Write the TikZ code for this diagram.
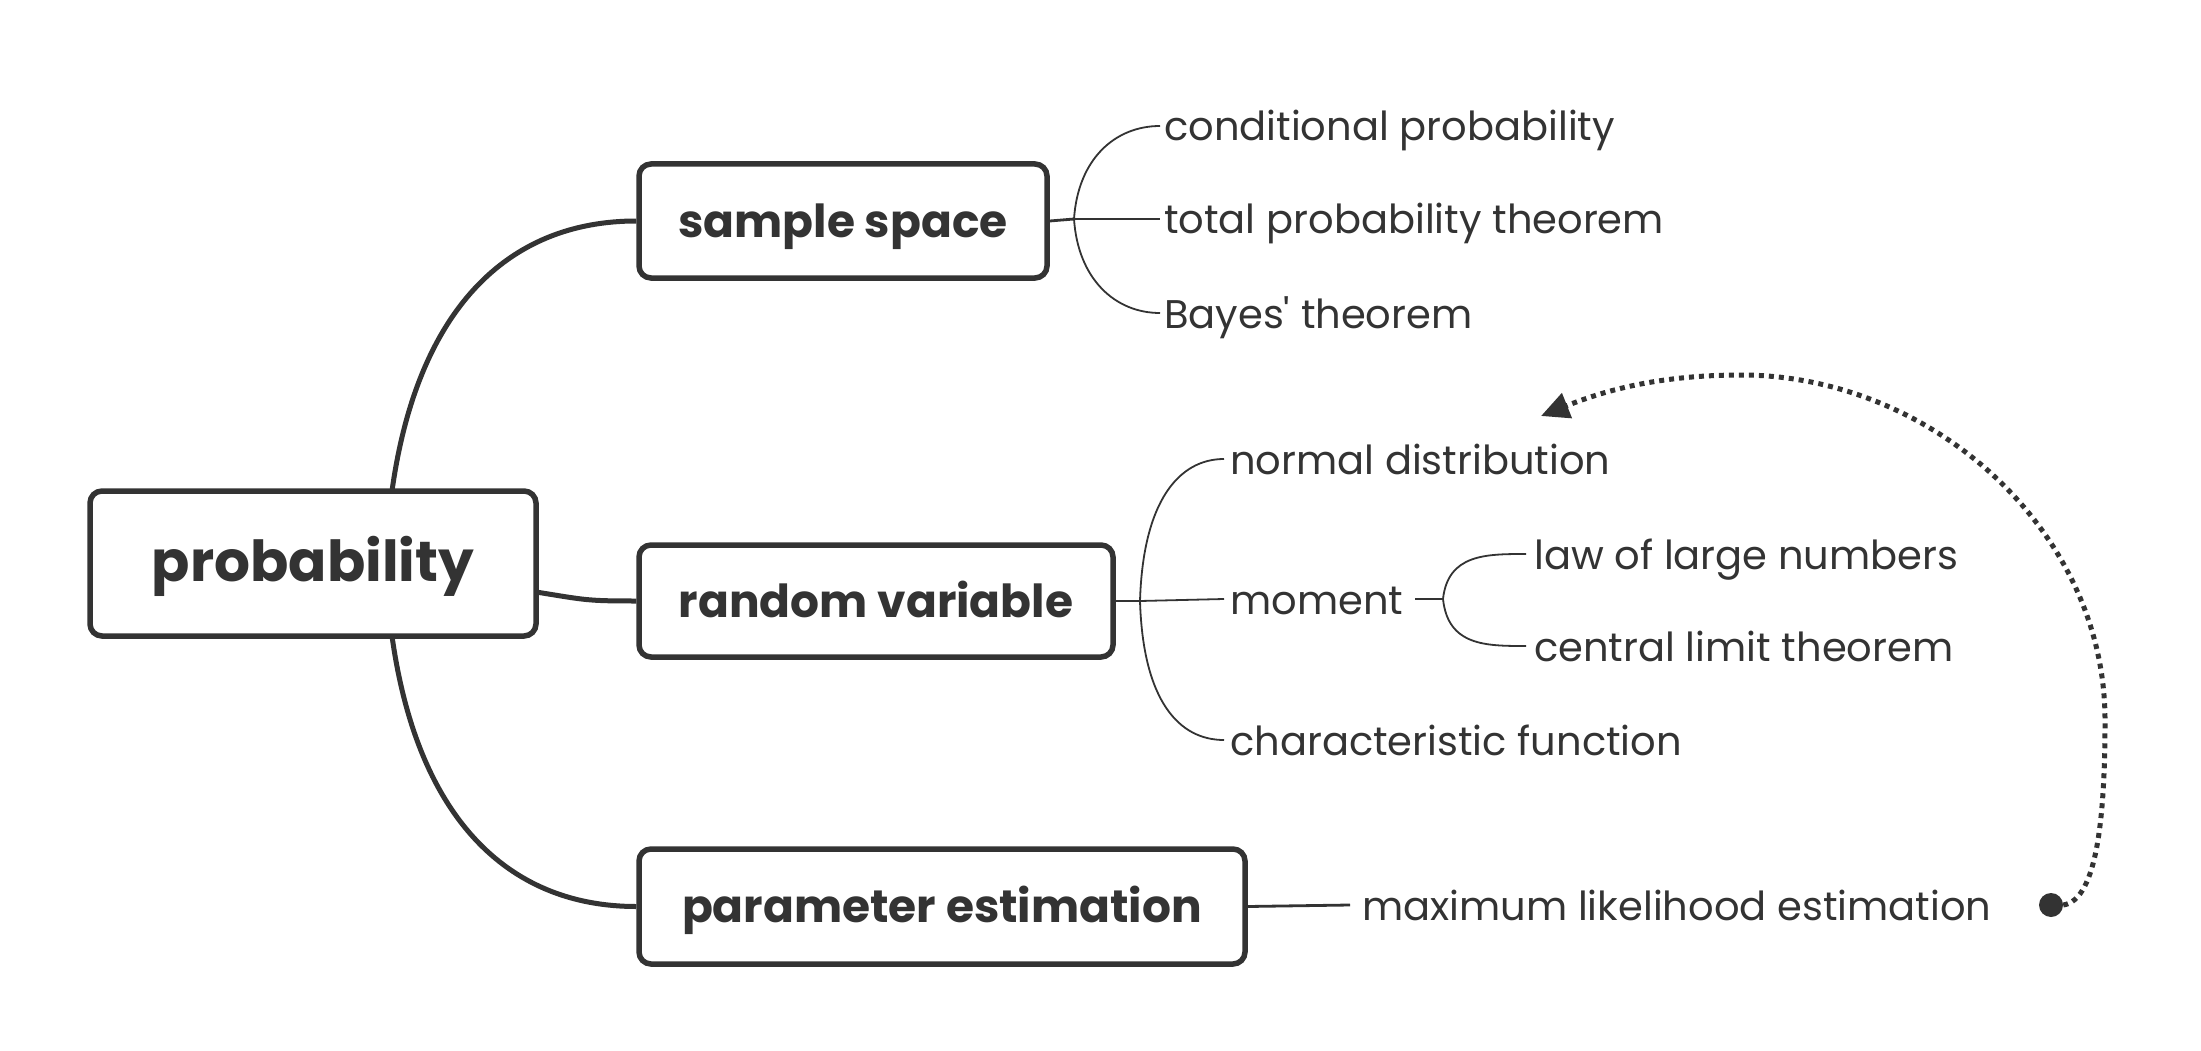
\documentclass[tikz,border=0pt]{standalone}
\usepackage{fontspec}
\setmainfont{Poppins}
\newfontfamily\subfont{Poppins}
\usetikzlibrary{arrows.meta}
\definecolor{ink}{HTML}{333333}
\tikzset{
  topicbox/.style={draw=ink, line width=5.5pt, rounded corners=12pt, fill=white, text=ink, font=\bfseries\fontsize{45.5}{54}\selectfont, inner sep=0pt, align=center, text height=36pt, text depth=4pt},
  subtext/.style={anchor=base west, inner sep=0pt, text=ink, font=\subfont\fontsize{40}{48}\selectfont},
  mainline/.style={draw=ink, line width=5pt},
  trunk/.style={draw=ink, line width=2.8pt},
  twig/.style={draw=ink, line width=1.8pt},
  relation/.style={draw=ink, line width=5pt, dash pattern=on 5pt off 5pt, -{Triangle[length=28pt,width=26pt]}}
}
\begin{document}
\begin{tikzpicture}[x=1pt,y=-1pt]
\useasboundingbox[fill=white] (0,0) rectangle (2201,1051);

% main topics
\node[topicbox, minimum width=446pt, minimum height=145pt, font=\bfseries\fontsize{56.5}{66}\selectfont, text height=41pt, text depth=6pt] (root) at (313,563.5) {probability};
\node[topicbox, minimum width=408pt, minimum height=114pt] (ss) at (843,221) {sample space};
\node[topicbox, minimum width=474pt, minimum height=112pt] (rv) at (876,601) {random variable};
\node[topicbox, minimum width=606pt, minimum height=115pt] (pe) at (942,906.5) {parameter estimation};

% subtopics (baseline 15pt below the connector height)
\node[subtext] (cp) at (1164,141) {conditional probability};
\node[subtext] (tp) at (1164,234) {total probability theorem};
\node[subtext] (bt) at (1164,328) {Bayes' theorem};
\node[subtext] (nd) at (1230,474) {normal distribution};
\node[subtext] (mo) at (1230,614) {moment};
\node[subtext] (cf) at (1230,755) {characteristic function};
\node[subtext] (ll) at (1534,569) {law of large numbers};
\node[subtext] (cl) at (1534,661) {central limit theorem};
\node[subtext] (ml) at (1362,920) {maximum likelihood estimation};

% junctions
\coordinate (j1) at (1074,219);
\coordinate (j2) at (1140,601);
\coordinate (j3) at (1443,599);
\coordinate (j4) at (1350,905);

% main connectors
\coordinate (rtop) at (392,491);
\coordinate (rbot) at (392,636);
\coordinate (rright) at (536,592);
\draw[mainline] (rtop) .. controls +(25,-180) and +(-130,0) .. (ss.west);
\draw[mainline] (rright) .. controls +(50,8) and +(-50,0) .. (rv.west);
\draw[mainline] (rbot) .. controls +(25,180) and +(-130,0) .. (pe.west);

% sample space branches
\draw[trunk] (ss.east) -- (j1);
\draw[twig] (j1) .. controls +(4,-60) and +(-45,0) .. ([shift={(-4,-15)}]cp.base west);
\draw[twig] (j1) -- ([shift={(-4,-15)}]tp.base west);
\draw[twig] (j1) .. controls +(4,60) and +(-45,0) .. ([shift={(-4,-15)}]bt.base west);

% random variable branches
\draw[trunk] (rv.east) -- (j2);
\draw[twig] (j2) .. controls +(3,-100) and +(-45,0) .. ([shift={(-6,-15)}]nd.base west);
\draw[twig] (j2) -- ([shift={(-6,-15)}]mo.base west);
\draw[twig] (j2) .. controls +(3,100) and +(-45,0) .. ([shift={(-6,-15)}]cf.base west);

% moment branches
\draw[trunk] ([shift={(12,-15)}]mo.base east) -- (j3);
\draw[twig] (j3) .. controls +(5,-45) and +(-40,0) .. ([shift={(-8,-15)}]ll.base west);
\draw[twig] (j3) .. controls +(5,47) and +(-40,0) .. ([shift={(-8,-15)}]cl.base west);

% parameter estimation branch
\draw[trunk] (pe.east) -- (j4);

% relationship
\node[circle, fill=ink, minimum size=24pt, inner sep=0pt] (dot) at (2051,905) {};
\coordinate (m1) at (2105,720);
\coordinate (ctop) at (1741,375);
\coordinate (tip) at (1541,416);
\draw[relation] (dot.east) .. controls +(35,-5) and +(0,90) .. (m1)
  .. controls +(0,-190) and +(190,0) .. (ctop)
  .. controls +(-90,0) and +(55,-22) .. (tip);
\end{tikzpicture}
\end{document}
